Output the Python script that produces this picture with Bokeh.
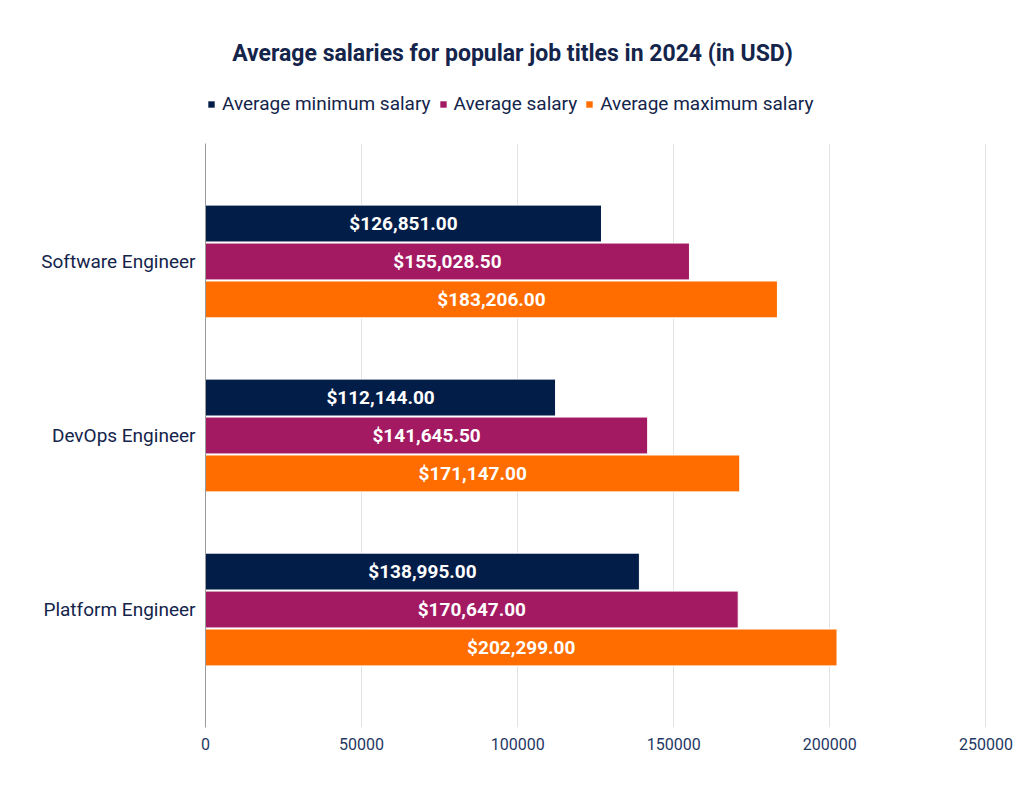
from bokeh.plotting import figure
from bokeh.models import ColumnDataSource, Range1d, FixedTicker, Label, Legend, LegendItem
from bokeh.layouts import column
from bokeh.embed import file_html
from bokeh.resources import INLINE
from bokeh.core.properties import value

jobs = ["Software Engineer", "DevOps Engineer", "Platform Engineer"]
series = ["Average minimum salary", "Average salary", "Average maximum salary"]
min_salary = [126851.00, 112144.00, 138995.00]
avg_salary = [155028.50, 141645.50, 170647.00]
max_salary = [183206.00, 171147.00, 202299.00]
x_ticks = [0, 50000, 100000, 150000, 200000, 250000]
colors = ["#031d49", "#a31a62", "#ff6d00"]
title_text = "Average salaries for popular job titles in 2024 (in USD)"

FONT = "Roboto"
NAVY_TXT = "#14244b"
W = 1016
HEAD_H = 143
FRAME_W = 782
LEFT = 205

# ---------- header: title + legend (frame aligned with the chart frame) ----------
head = figure(width=W, height=HEAD_H, min_border=0,
              min_border_left=LEFT, min_border_right=W - LEFT - FRAME_W,
              x_range=Range1d(0, FRAME_W), y_range=Range1d(0, HEAD_H),
              x_axis_location=None, y_axis_location=None,
              output_backend="svg", toolbar_location=None, title=None)
head.outline_line_color = None
head.xgrid.grid_line_color = None
head.ygrid.grid_line_color = None

head.add_layout(Label(x=512 - LEFT, y=HEAD_H - 53, text=title_text,
                      text_font=FONT, text_font_style="bold", text_font_size="23px",
                      text_color=NAVY_TXT, text_align="center", text_baseline="middle"))

# legend swatches (glyphs kept outside the visible header area)
swatch_src = ColumnDataSource(dict(y=[-1000], right=[1]))
dummies = [head.hbar(y="y", right="right", height=1, source=swatch_src,
                     fill_color=c, line_color=None) for c in colors]
legend = Legend(items=[LegendItem(label=s, renderers=[r]) for s, r in zip(series, dummies)],
                orientation="horizontal", location=(2, 28),
                glyph_width=8, glyph_height=8, label_standoff=7, spacing=8,
                padding=0, margin=0, border_line_color=None, background_fill_alpha=0,
                label_text_font=FONT, label_text_font_size="19px",
                label_text_color=NAVY_TXT, label_height=22)
head.add_layout(legend)

# ---------- main chart ----------
p = figure(frame_width=FRAME_W, frame_height=584,
           min_border_left=LEFT, min_border_right=W - LEFT - FRAME_W,
           min_border_top=0, min_border_bottom=59,
           x_range=Range1d(0, 250500), y_range=Range1d(-0.678, 2.678),
           output_backend="svg", toolbar_location=None, title=None)
p.outline_line_color = None

ypos = [2, 1, 0]
offsets = [0.218, 0.0, -0.218]
bar_h = 0.212
for vals, off, col in zip([min_salary, avg_salary, max_salary], offsets, colors):
    src = ColumnDataSource(dict(
        y=[y + off for y in ypos],
        right=vals,
        xm=[v / 2 for v in vals],
        lab=[f"${v:,.2f}" for v in vals],
    ))
    p.hbar(y="y", right="right", left=0, height=bar_h, source=src,
           fill_color=col, line_color="white", line_width=1)
    p.text(x="xm", y="y", text="lab", source=src, text_color="white",
           text_font=value(FONT), text_font_style="bold", text_font_size="19px",
           text_align="center", text_baseline="middle")

p.xaxis.ticker = FixedTicker(ticks=x_ticks)
p.xaxis.axis_line_color = None
p.xaxis.major_tick_line_color = None
p.xaxis.minor_tick_line_color = None
p.xaxis.major_tick_out = 0
p.xaxis.major_tick_in = 0
p.xaxis.major_label_standoff = 10
p.xaxis.major_label_text_font = FONT
p.xaxis.major_label_text_font_size = "16px"
p.xaxis.major_label_text_color = "#1f3864"
p.xaxis.formatter.use_scientific = False

p.yaxis.ticker = FixedTicker(ticks=ypos)
p.yaxis.major_label_overrides = {y: j for y, j in zip(ypos, jobs)}
p.yaxis.axis_line_color = "#9a9a9a"
p.yaxis.axis_line_width = 1
p.yaxis.major_tick_line_color = None
p.yaxis.minor_tick_line_color = None
p.yaxis.major_tick_out = 0
p.yaxis.major_tick_in = 0
p.yaxis.major_label_standoff = 10
p.yaxis.major_label_text_font = FONT
p.yaxis.major_label_text_font_size = "19px"
p.yaxis.major_label_text_color = NAVY_TXT

p.xgrid.grid_line_color = "#e3e3e3"
p.ygrid.grid_line_color = None

layout = column(head, p, spacing=0)
open("out.html", "w").write(file_html(layout, INLINE))
